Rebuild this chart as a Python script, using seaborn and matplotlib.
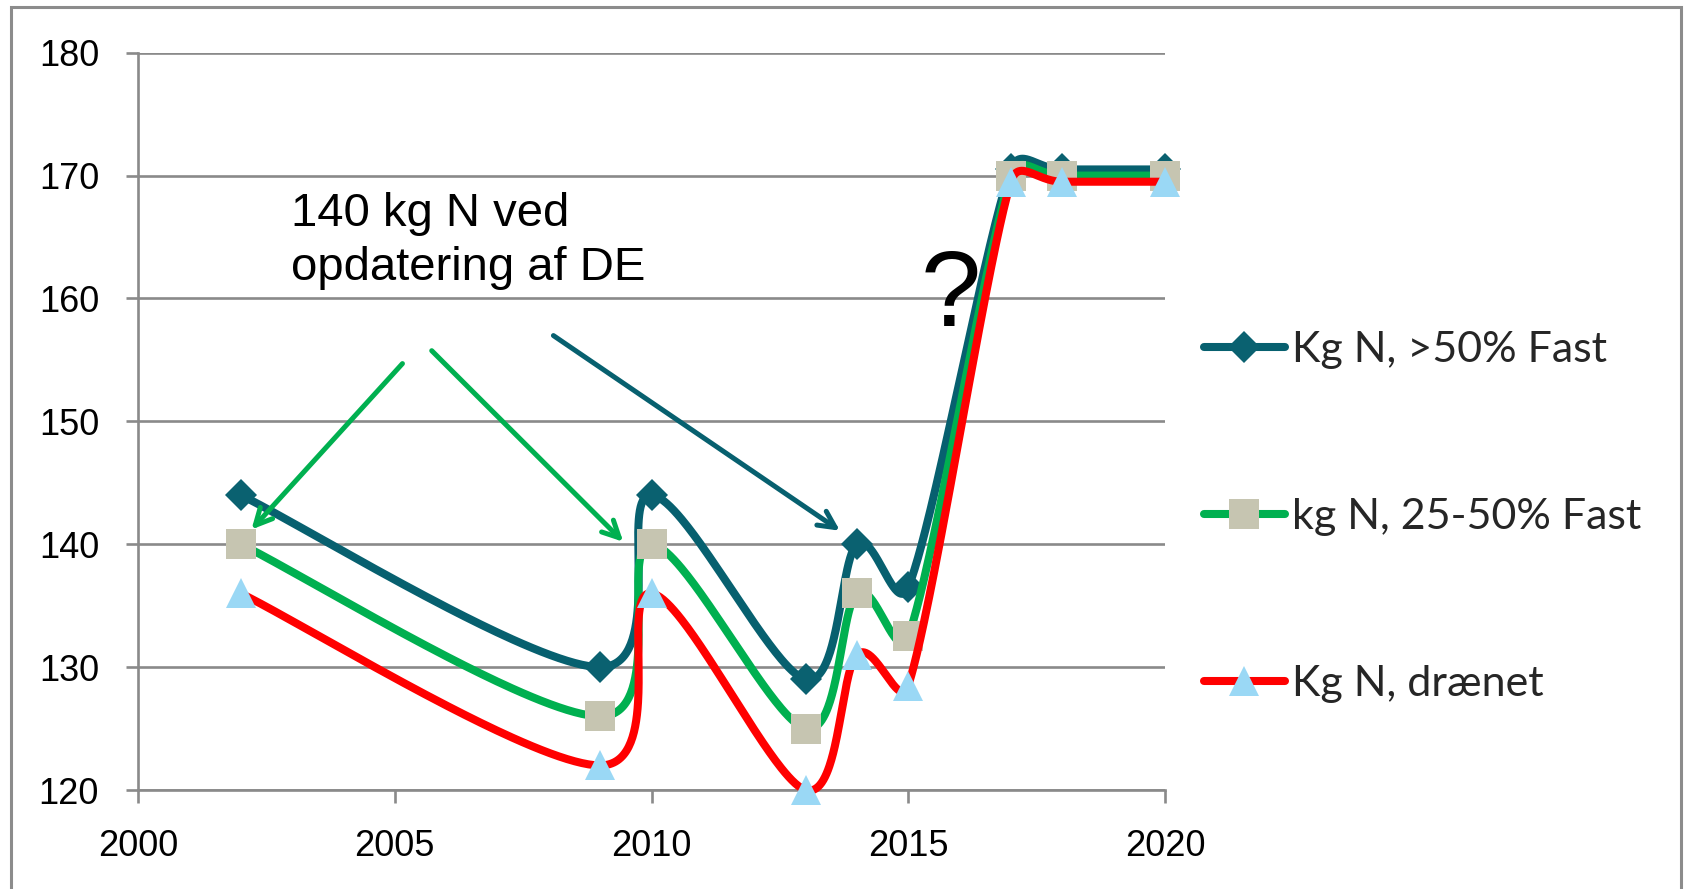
import numpy as np
import pandas as pd
import matplotlib
matplotlib.use("Agg")
import matplotlib.pyplot as plt
import seaborn as sns
from matplotlib.lines import Line2D
from matplotlib.patches import Rectangle

# ---------------- data ----------------
years = [2002, 2009, 2010, 2013, 2014, 2015, 2017, 2018, 2020]
fast_over50 = [144, 130, 144, 129, 140, 136.5, 170.5, 170.5, 170.5]
fast_25_50 = [140, 126, 140, 125, 136, 132.5, 170, 170, 170]
draenet = [136, 122, 136, 120, 131, 128.5, 169.5, 169.5, 169.5]
labels = ["Kg N, >50% Fast", "kg N, 25-50% Fast", "Kg N, drænet"]
x_ticks = [2000, 2005, 2010, 2015, 2020]
y_ticks = [120, 130, 140, 150, 160, 170, 180]

line_colors = ["#07606F", "#00B050", "#FF0000"]
marker_colors = ["#0A6170", "#C6C5B1", "#9AD8F5"]
markers = ["D", "s", "^"]
marker_sizes = [15.8, 22, 22]

sns.set_theme(style="white")
plt.rcParams["font.family"] = ["Liberation Sans", "DejaVu Sans"]

W, H = 1692, 889
fig = plt.figure(figsize=(W / 100, H / 100), dpi=100)
ax = fig.add_axes([138 / W, (H - 790) / H, (1165 - 138) / W, (790 - 52.7) / H])
ax.set_xlim(2000, 2020)
ax.set_ylim(120, 180)

grid_c = "#8A8A8A"
ax.set_xticks(x_ticks)
ax.set_yticks(y_ticks)
ax.yaxis.grid(True, color=grid_c, linewidth=1.9)
ax.xaxis.grid(False)
for s in ["top", "right"]:
    ax.spines[s].set_visible(False)
for s in ["left", "bottom"]:
    ax.spines[s].set_color(grid_c)
    ax.spines[s].set_linewidth(1.9)
ax.tick_params(axis="both", which="major", direction="out", length=9, width=1.9,
               color=grid_c, labelsize=26, labelcolor="black", left=True, bottom=True)
ax.tick_params(axis="y", pad=19)
ax.tick_params(axis="x", pad=19)


def excel_smooth(xs, ys, n=80):
    P = ax.transData.transform(np.column_stack([xs, ys]).astype(float))
    m = len(P)
    out = []
    for i in range(m - 1):
        p0 = P[i - 1] if i > 0 else P[i]
        p1, p2 = P[i], P[i + 1]
        p3 = P[i + 2] if i + 2 < m else P[i + 1]
        d12 = np.linalg.norm(p2 - p1)
        d02 = np.linalg.norm(p2 - p0)
        d13 = np.linalg.norm(p3 - p1)
        f = 1.0 / 6.0
        f0 = f if d02 / 6 < d12 / 2 else (d12 / d02 / 2 if d02 > 0 else 0)
        f1 = f if d13 / 6 < d12 / 2 else (d12 / d13 / 2 if d13 > 0 else 0)
        c1 = p1 + f0 * (p2 - p0)
        c2 = p2 - f1 * (p3 - p1)
        t = np.linspace(0, 1, n)[:, None]
        B = ((1 - t) ** 3) * p1 + 3 * ((1 - t) ** 2) * t * c1 + 3 * (1 - t) * t ** 2 * c2 + t ** 3 * p2
        out.append(B if i == 0 else B[1:])
    pts = ax.transData.inverted().transform(np.vstack(out))
    return pts[:, 0], pts[:, 1]


series = [fast_over50, fast_25_50, draenet]
z = 3
for k, vals in enumerate(series):
    sx, sy = excel_smooth(years, vals)
    df = pd.DataFrame({"x": sx, "y": sy})
    sns.lineplot(data=df, x="x", y="y", sort=False, estimator=None, ax=ax,
                 color=line_colors[k], linewidth=5.8, zorder=z, legend=False)
    ax.lines[-1].set_clip_on(False)
    z += 1
    dm = pd.DataFrame({"x": years, "y": vals})
    ax.plot(dm["x"], dm["y"], linestyle="none", marker=markers[k],
            markersize=marker_sizes[k], markerfacecolor=marker_colors[k],
            markeredgewidth=0, zorder=z, clip_on=False)
    z += 1

ax.set_xlim(2000, 2020)
ax.set_ylim(120, 180)
ax.set_xlabel("")
ax.set_ylabel("")

# arrows (annotation shapes)
arrow_specs = [
    ((2005.15, 154.7), (2002.21, 141.2), "#00B050"),
    ((2005.72, 155.75), (2009.45, 140.2), "#00B050"),
    ((2008.09, 156.98), (2013.67, 141.1), "#07606F"),
]
for (x0, y0), (x1, y1), c in arrow_specs:
    ax.annotate("", xy=(x1, y1), xytext=(x0, y0),
                arrowprops=dict(arrowstyle="->,head_length=1.0,head_width=0.5", color=c, lw=3.6,
                                shrinkA=0, shrinkB=0, capstyle="round"),
                zorder=20, annotation_clip=False)

fig.text(291 / W, 1 - 192 / H, "140 kg N ved\nopdatering af DE", fontsize=34,
         ha="left", va="top", color="black", linespacing=1.3,
         family=["Liberation Sans", "DejaVu Sans"])
fig.text(951 / W, 1 - 326 / H, "?", fontsize=78, ha="center", va="baseline", color="black",
         family=["Liberation Sans", "DejaVu Sans"])

# legend
handles = [Line2D([0], [0], color=line_colors[k], linewidth=5.8, marker=markers[k],
                  markersize=marker_sizes[k], markerfacecolor=marker_colors[k],
                  markeredgewidth=0, solid_capstyle="round") for k in range(3)]
leg = fig.legend(handles, labels, loc="center left", bbox_to_anchor=(1182 / W, 1 - 517 / H),
                 frameon=False, prop={"family": ["Lato", "DejaVu Sans"], "size": 31},
                 handlelength=1.9, handletextpad=0.15, labelspacing=3.0, borderpad=0)

# outer border
fig.patches.append(Rectangle((11 / W, -0.05), (1681 - 11) / W, 1.05 - 7 / H,
                             transform=fig.transFigure, fill=False, edgecolor="#8C8C8C",
                             linewidth=2.2))

fig.savefig("out.png", dpi=100)
